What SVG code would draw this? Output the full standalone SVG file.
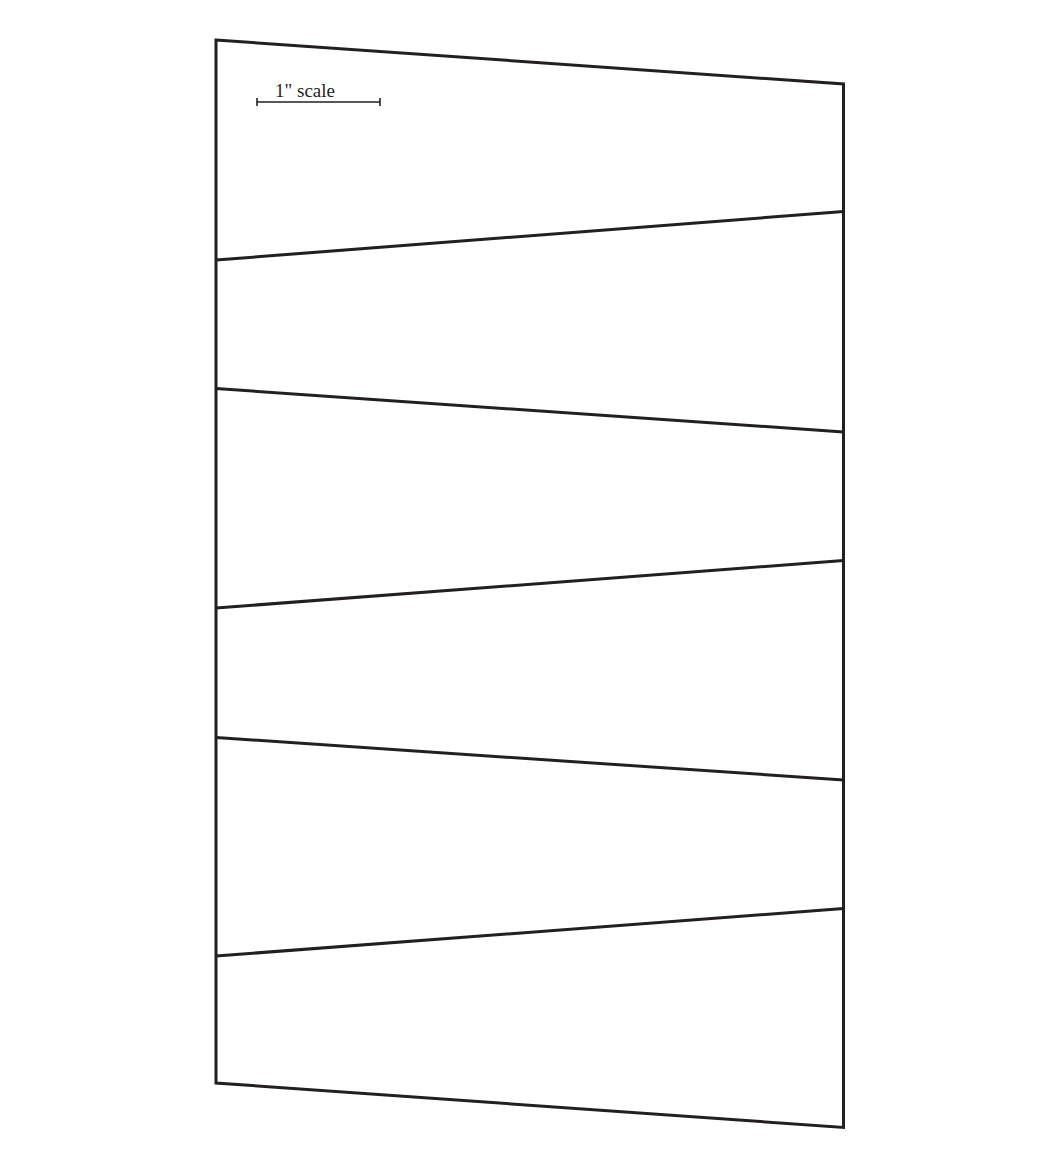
<svg xmlns="http://www.w3.org/2000/svg" width="1060" height="1164" viewBox="0 0 1060 1164">
<style>
.s{fill:none;stroke:#231f20;stroke-width:3;stroke-linejoin:miter}
.sc{fill:none;stroke:#231f20;stroke-width:1.6}
.t{font-family:"Liberation Serif",serif;font-size:19px;fill:#231f20}
</style>
<rect width="1060" height="1164" fill="#fff"/>
<g id="outline">
<polygon class="s" points="216,40 843.5,84 843.5,1127.5 216,1083"/>
</g>
<g id="dividers">
<line class="s" x1="216" y1="260" x2="843.5" y2="211.5"/>
<line class="s" x1="216" y1="388.5" x2="843.5" y2="432"/>
<line class="s" x1="216" y1="608" x2="843.5" y2="560.5"/>
<line class="s" x1="216" y1="737.5" x2="843.5" y2="780"/>
<line class="s" x1="216" y1="956" x2="843.5" y2="908.5"/>
</g>
<g id="scale">
<line class="sc" x1="257" y1="102" x2="380" y2="102"/>
<line class="sc" x1="257" y1="98" x2="257" y2="106"/>
<line class="sc" x1="380" y1="98" x2="380" y2="106"/>
<text class="t" x="275" y="97">1" scale</text>
</g>
</svg>
